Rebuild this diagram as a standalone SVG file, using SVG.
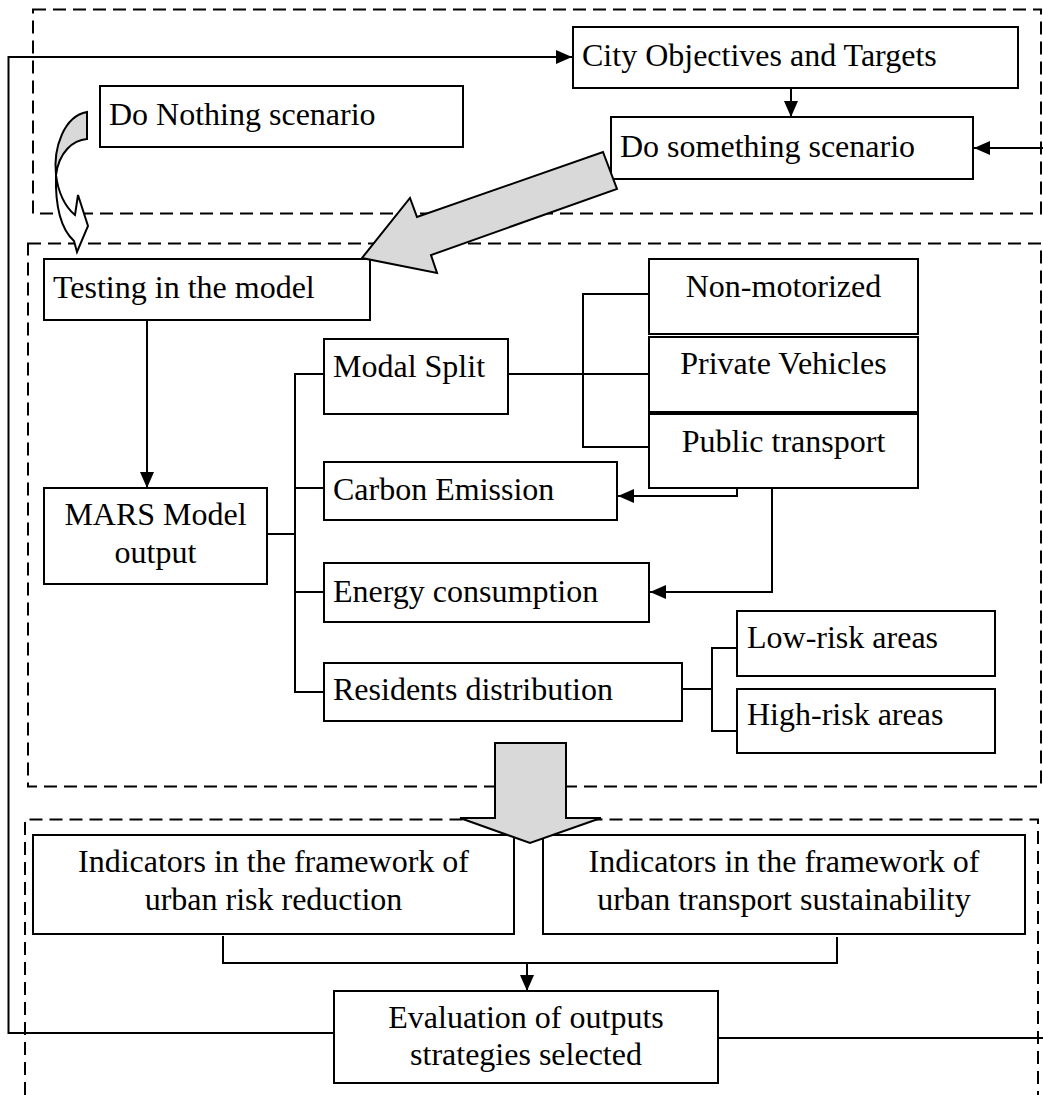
<svg xmlns="http://www.w3.org/2000/svg" width="1043" height="1095" viewBox="0 0 1043 1095">
  <style>
    .box { fill: #ffffff; stroke: #000000; stroke-width: 2; }
    .frame { fill: none; stroke: #000000; stroke-width: 2; stroke-dasharray: 13 7; }
    .wire { fill: none; stroke: #000000; stroke-width: 2; }
    .block { fill: #d9d9d9; stroke: #000000; stroke-width: 2; stroke-linejoin: miter; }
    .plain { fill: #ffffff; stroke: #000000; stroke-width: 2; }
    text { font-family: "Liberation Serif", "Times New Roman", serif; font-size: 32px; fill: #000000; }
    .c { text-anchor: middle; }
  </style>
  <defs>
    <marker id="head" markerUnits="userSpaceOnUse" markerWidth="17" markerHeight="15" refX="16" refY="7" orient="auto">
      <path d="M0,0 L16,7 L0,14 Z" fill="#000000"/>
    </marker>
  </defs>

  <rect width="1043" height="1095" fill="#ffffff"/>

  <!-- stage frames -->
  <g id="frames">
    <rect class="frame" x="33" y="9.5" width="1008" height="204"/>
    <rect class="frame" x="28" y="243.5" width="1013" height="543"/>
    <path class="frame" d="M25,1095 V819.5 H1038 V1095"/>
  </g>

  <!-- connectors -->
  <g id="connectors">
    <!-- feedback loop from evaluation back to objectives -->
    <path class="wire" d="M334,1033 H8.5 V57 H572" marker-end="url(#head)"/>
    <path class="wire" d="M718,1038 H1043"/>
    <path class="wire" d="M1043,148 H974" marker-end="url(#head)"/>
    <path class="wire" d="M791,88 V117" marker-end="url(#head)"/>
    <path class="wire" d="M147,320 V488" marker-end="url(#head)"/>
    <!-- model output tree -->
    <path class="wire" d="M267,534 H295"/>
    <path class="wire" d="M324,374 H295 V692 H324"/>
    <path class="wire" d="M295,488 H324"/>
    <path class="wire" d="M295,592 H324"/>
    <!-- modal split branches -->
    <path class="wire" d="M508,374 H649"/>
    <path class="wire" d="M649,294 H583 V447 H649"/>
    <path class="wire" d="M737,488 V496 H618" marker-end="url(#head)"/>
    <path class="wire" d="M772,488 V592 H650" marker-end="url(#head)"/>
    <!-- residents branches -->
    <path class="wire" d="M682,689 H712"/>
    <path class="wire" d="M737,648 H712 V731 H737"/>
    <!-- indicators into evaluation -->
    <path class="wire" d="M223,936 V963 H837 V937"/>
    <path class="wire" d="M527,963 V991" marker-end="url(#head)"/>
  </g>

  <g id="city-objectives">
    <rect class="box" x="573" y="27" width="445" height="61"/>
    <text x="582" y="66">City Objectives and Targets</text>
  </g>
  <g id="do-nothing">
    <rect class="box" x="100" y="86" width="363" height="61"/>
    <text x="109" y="125">Do Nothing scenario</text>
  </g>
  <g id="do-something">
    <rect class="box" x="611" y="117" width="362" height="62"/>
    <text x="620" y="157">Do something scenario</text>
  </g>
  <g id="testing">
    <rect class="box" x="44" y="259" width="326" height="61"/>
    <text x="53" y="298">Testing in the model</text>
  </g>
  <g id="mars-output">
    <rect class="box" x="44" y="488" width="223" height="96"/>
    <text class="c" x="155.5" y="525">MARS Model</text>
    <text class="c" x="155.5" y="563">output</text>
  </g>
  <g id="modal-split">
    <rect class="box" x="324" y="339" width="184" height="75"/>
    <text x="333" y="377">Modal Split</text>
  </g>
  <g id="carbon-emission">
    <rect class="box" x="324" y="462" width="293" height="58"/>
    <text x="333" y="500">Carbon Emission</text>
  </g>
  <g id="energy-consumption">
    <rect class="box" x="324" y="563" width="325" height="59"/>
    <text x="333" y="602">Energy consumption</text>
  </g>
  <g id="residents-distribution">
    <rect class="box" x="324" y="663" width="358" height="58"/>
    <text x="333" y="700">Residents distribution</text>
  </g>
  <g id="non-motorized">
    <rect class="box" x="649" y="259" width="269" height="75"/>
    <text class="c" x="783.5" y="297">Non-motorized</text>
  </g>
  <g id="private-vehicles">
    <rect class="box" x="649" y="337" width="269" height="75"/>
    <text class="c" x="783.5" y="374">Private Vehicles</text>
  </g>
  <g id="public-transport">
    <rect class="box" x="649" y="414" width="269" height="74"/>
    <text class="c" x="783.5" y="452">Public transport</text>
  </g>
  <g id="low-risk">
    <rect class="box" x="737" y="611" width="258" height="65"/>
    <text x="747" y="648">Low-risk areas</text>
  </g>
  <g id="high-risk">
    <rect class="box" x="737" y="689" width="258" height="64"/>
    <text x="747" y="725">High-risk areas</text>
  </g>
  <g id="risk-indicators">
    <rect class="box" x="33" y="835" width="481" height="99"/>
    <text class="c" x="273.5" y="872">Indicators in the framework of</text>
    <text class="c" x="273.5" y="910">urban risk reduction</text>
  </g>
  <g id="transport-indicators">
    <rect class="box" x="543" y="835" width="482" height="99"/>
    <text class="c" x="784" y="872">Indicators in the framework of</text>
    <text class="c" x="784" y="910">urban transport sustainability</text>
  </g>
  <g id="evaluation">
    <rect class="box" x="334" y="991" width="384" height="92"/>
    <text class="c" x="526" y="1028">Evaluation of outputs</text>
    <text class="c" x="526" y="1065">strategies selected</text>
  </g>

  <!-- block arrows between stages -->
  <g id="block-arrows">
    <path class="block" d="M87,112 L87,139 C73,140 59,152 56,175 C53,148 64,116 87,112 Z"/>
    <path class="plain" d="M56,175 C58,192 65,207 75,215 L78,195 L88,226 L77,252 L74,241 C62,230 55,210 56,175 Z"/>
    <polygon class="block" points="603,152 617,189 431,255 437,273 362,258 410,198 417,217"/>
    <polygon class="block" points="495,743 566,743 566,818 601,818 530,843 460,818 495,818"/>
  </g>
</svg>
